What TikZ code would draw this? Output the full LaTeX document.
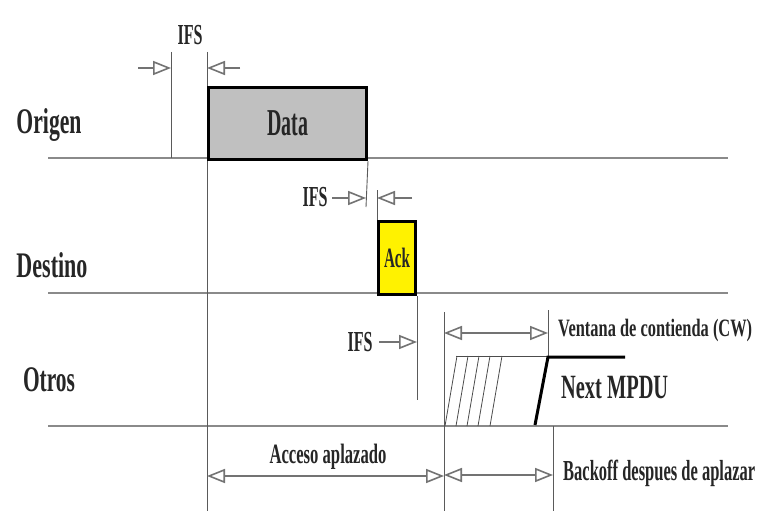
\documentclass[tikz,border=0pt]{standalone}
\usepackage{fontspec}
\setmainfont{Liberation Serif}
\usetikzlibrary{arrows.meta}
\definecolor{tline}{HTML}{8A8A8A}
\definecolor{vline}{HTML}{5A5A5A}
\definecolor{datafill}{HTML}{C0C0C0}
\definecolor{ackfill}{HTML}{FFF200}
\newcommand\tw[3]{\resizebox{#1pt}{\height}{\fontsize{#2}{#2}\selectfont\bfseries #3}}
\begin{document}
\begin{tikzpicture}[x=1pt,y=-1pt,
  timeline/.style={draw=tline, line width=2pt},
  vrule/.style={draw=vline, line width=0.9pt},
  box/.style={draw=black, line width=3pt},
  lbl/.style={inner sep=0pt, text=black!85},
  ifsarrow/.style={draw=black!55, line width=1.4pt, -{Triangle[length=18pt,width=14pt,fill=white,line width=1.6pt]}},
  dimarrow/.style={draw=black!55, line width=1.4pt, {Triangle[length=18pt,width=14pt,fill=white,line width=1.6pt]}-{Triangle[length=18pt,width=14pt,fill=white,line width=1.6pt]}},
  hatch/.style={draw=black!70, line width=0.8pt},
  thick line/.style={draw=black, line width=3pt}
]
\useasboundingbox (0,0) rectangle (760,511);
\fill[white] (0,0) rectangle (760,511);

% time lines
\coordinate (oL) at (48,158); \coordinate (oR) at (728,158);
\coordinate (dL) at (48,293); \coordinate (dR) at (728,293);
\coordinate (tL) at (48,426); \coordinate (tR) at (728,426);
\draw[timeline] (oL) -- (oR);
\draw[timeline] (dL) -- (dR);
\draw[timeline] (tL) -- (tR);

% row labels
\node[lbl] (origen) at (49,125) {\tw{65}{36}{Origen}};
\node[lbl] (destino) at (52,265) {\tw{71}{36}{Destino}};
\node[lbl] (otros) at (49,380) {\tw{52}{36}{Otros}};

% first IFS
\coordinate (v1t) at (171,52); \coordinate (v1b) at (171,158);
\coordinate (v2t) at (207,52); \coordinate (v2b) at (207,511);
\draw[vrule] (v1t) -- (v1b);
\draw[vrule] (v2t) -- (v2b);
\coordinate (a1s) at (138,68); \coordinate (a1e) at (171,68);
\coordinate (a2s) at (240,68); \coordinate (a2e) at (207,68);
\draw[ifsarrow] (a1s) -- (a1e);
\draw[ifsarrow] (a2s) -- (a2e);
\node[lbl] (ifs1) at (190,35) {\tw{25}{29}{IFS}};

% Data frame
\node[box, fill=datafill, minimum width=158pt, minimum height=72pt, inner sep=0pt, anchor=north west] (data) at (207,86) {};
\node[lbl] (datatxt) at (data.center) {\tw{41}{38}{Data}};
\coordinate (v3b) at (366,207);
\draw[vrule] (data.south east) -- (v3b);

% second IFS
\coordinate (v4t) at (377,190);
\coordinate (a3s) at (332,198); \coordinate (a3e) at (366,198);
\coordinate (a4s) at (412,198); \coordinate (a4e) at (377,198);
\draw[ifsarrow] (a3s) -- (a3e);
\draw[ifsarrow] (a4s) -- (a4e);
\node[lbl] (ifs2) at (315,197) {\tw{25}{29}{IFS}};

% Ack frame
\node[box, fill=ackfill, minimum width=37pt, minimum height=73pt, inner sep=0pt, anchor=north west] (ack) at (377,220) {};
\draw[vrule] (v4t) -- (ack.north west);
\node[lbl] (acktxt) at (ack.center) {\tw{26}{28}{Ack}};
\coordinate (v5b) at (ack.south east |- 0,400);
\draw[vrule] (ack.south east) -- (v5b);

% third IFS
\coordinate (a5s) at (379,342); \coordinate (a5e) at (ack.south east |- 0,342);
\draw[ifsarrow] (a5s) -- (a5e);
\node[lbl] (ifs3) at (360,342) {\tw{25}{29}{IFS}};

% contention window
\coordinate (v6t) at (444,312); \coordinate (v6b) at (444,511);
\draw[vrule] (v6t) -- (v6b);
\coordinate (v7t) at (548,310); \coordinate (v7b) at (548,357);
\draw[vrule] (v7t) -- (v7b);
\coordinate (cwL) at (444,333); \coordinate (cwR) at (548,333);
\draw[dimarrow] (cwL) -- (cwR);
\node[lbl, anchor=west] (cw) at (558,330) {\tw{194}{25}{Ventana de contienda (CW)}};

% hatched backoff slots
\coordinate (hT) at (456,356); \coordinate (hE) at (548,356);
\draw[hatch] (hT) -- (hE);
\foreach \bx/\tx [count=\i] in {445/457,456/468,467/479,478/490,490/502}{
  \coordinate (hb\i) at (\bx,426);
  \coordinate (ht\i) at (\tx,356);
  \draw[hatch] (hb\i) -- (ht\i);
}

% next MPDU
\coordinate (m1) at (535,425); \coordinate (m2) at (548,357); \coordinate (m3) at (625,357);
\draw[thick line] (m1) -- (m2) -- (m3);
\node[lbl, anchor=west] (mpdu) at (561,388) {\tw{107}{34}{Next MPDU}};

% bottom dimension lines
\coordinate (v8t) at (553,426); \coordinate (v8b) at (553,511);
\draw[vrule] (v8t) -- (v8b);
\coordinate (acL) at (207,476); \coordinate (acR) at (444,476);
\draw[dimarrow] (acL) -- (acR);
\node[lbl] (acceso) at (328,457) {\tw{117}{28}{Acceso aplazado}};
\coordinate (boL) at (444,475); \coordinate (boR) at (553,475);
\draw[dimarrow] (boL) -- (boR);
\node[lbl, anchor=west] (backoff) at (563,473) {\tw{192}{29}{Backoff despues de aplazar}};
\end{tikzpicture}
\end{document}
